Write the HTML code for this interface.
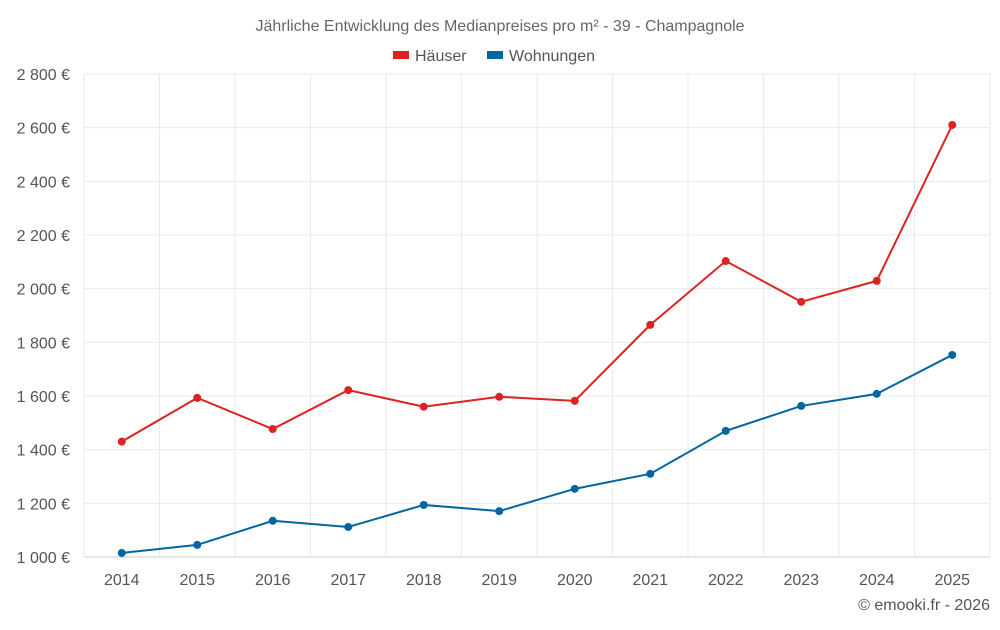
<!DOCTYPE html>
<html><head><meta charset="utf-8">
<style>
body{margin:0;background:#fff;font-family:"Liberation Sans",sans-serif;}
svg text{font-family:"Liberation Sans",sans-serif;}
</style></head>
<body>
<svg width="1000" height="625">
<text x="500" y="31" text-anchor="middle" font-size="16" fill="#666">Jährliche Entwicklung des Medianpreises pro m² - 39 - Champagnole</text>
<g>
<g><rect x="393" y="51" width="16" height="8" fill="#dd2222"/><text x="415" y="61" font-size="16" fill="#555">Häuser</text></g>
<g><rect x="487" y="51" width="16" height="8" fill="#0066a0"/><text x="509" y="61" font-size="16" fill="#555">Wohnungen</text></g>
</g>
<g id="grid"></g>
<g id="marks"></g>
<text x="990" y="610" text-anchor="end" font-size="16" fill="#555">© emooki.fr - 2026</text>
</svg>
<script>
const years=["2014","2015","2016","2017","2018","2019","2020","2021","2022","2023","2024","2025"];
const houses=[1430,1593,1477,1622,1560,1597,1582,1865,2103,1951,2029,2610];
const flats=[1015,1045,1135,1112,1194,1171,1254,1310,1470,1563,1608,1753];
const yTicks=[1000,1200,1400,1600,1800,2000,2200,2400,2600,2800];
const yTickLabels=["1 000 €","1 200 €","1 400 €","1 600 €","1 800 €","2 000 €","2 200 €","2 400 €","2 600 €","2 800 €"];
const NS="http://www.w3.org/2000/svg";
const L=84,R=990,T=74,B=557;
const yMin=1000,yMax=2800;
const ys=v=>B-(v-yMin)/(yMax-yMin)*(B-T);
const step=(R-L)/years.length;
const xs=i=>L+step*(i+0.5);
function mk(tag,attrs,parent){const e=document.createElementNS(NS,tag);for(const k in attrs)e.setAttribute(k,attrs[k]);parent.appendChild(e);return e;}
const grid=document.getElementById('grid'),marks=document.getElementById('marks');
yTicks.forEach((t,i)=>{
  const ln=mk('line',{x1:L,x2:R,y1:ys(t),y2:ys(t),stroke:i==0?'#ccc':'#eaeaea','stroke-width':1},grid);
  
  
  const tx=mk('text',{x:70,y:ys(t)+6,'text-anchor':'end','font-size':16,fill:'#555'},grid);
  tx.textContent=yTickLabels[i];
  
  
});
for(let i=0;i<=years.length;i++){
  const x=L+step*i;
  const ln=mk('line',{x1:x,x2:x,y1:T,y2:B,stroke:'#eaeaea','stroke-width':1},grid);
  
  
}
years.forEach((y,i)=>{
  const tx=mk('text',{x:xs(i),y:585,'text-anchor':'middle','font-size':16,fill:'#555'},grid);
  tx.textContent=y;
  
  
});
function series(vals,color,name){
  const p=mk('polyline',{points:vals.map((v,i)=>xs(i)+','+ys(v)).join(' '),fill:'none',stroke:color,'stroke-width':2},marks);
  
  
  vals.forEach((v,i)=>{
    const c=mk('circle',{cx:xs(i),cy:ys(v),r:4,fill:color},marks);
    
    
  });
}
series(houses,'#dd2222','haeuser');
series(flats,'#0066a0','wohnungen');
</script>
</body></html>
